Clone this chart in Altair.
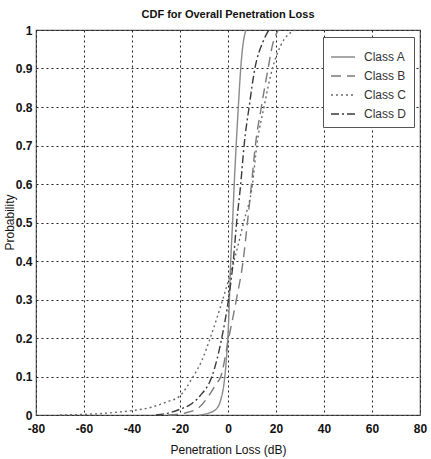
import altair as alt
import pandas as pd

# ---- data ----
classes = ["Class A", "Class B", "Class C", "Class D"]

a_x = [-12, -8, -5, -3, -1.5, -0.5, 0.3, 1.0, 1.9, 2.6, 3.4, 4.3, 5.3, 6.2, 7.5]
a_y = [0, 0.005, 0.015, 0.04, 0.09, 0.16, 0.25, 0.38, 0.5, 0.6, 0.7, 0.8, 0.9, 0.96, 1.0]

b_x = [-25, -18, -12, -8, -5, -3, 0.3, 3.5, 6.3, 8.1, 9.8, 11.4, 13.9, 16.7, 18.5, 21]
b_y = [0, 0.005, 0.02, 0.05, 0.08, 0.1, 0.2, 0.3, 0.4, 0.5, 0.6, 0.7, 0.8, 0.9, 0.96, 1.0]

c_x = [-70, -55, -45, -38, -32, -26, -20, -14.5, -11, -7.4, -2.2, 2.5, 6.5, 10.2, 12, 15, 18.5, 22, 28]
c_y = [0, 0.003, 0.008, 0.013, 0.02, 0.033, 0.05, 0.1, 0.14, 0.2, 0.3, 0.4, 0.5, 0.6, 0.7, 0.8, 0.9, 0.96, 1.0]

d_x = [-30, -25, -20, -15, -11.6, -6.7, -2.6, 0.2, 2.2, 3.6, 5.3, 6.7, 8.8, 11.2, 14.6, 17]
d_y = [0, 0.005, 0.015, 0.03, 0.05, 0.1, 0.2, 0.3, 0.4, 0.5, 0.6, 0.7, 0.8, 0.9, 0.97, 1.0]

x_ticks = [-80, -60, -40, -20, 0, 20, 40, 60, 80]
y_ticks = [0, 0.1, 0.2, 0.3, 0.4, 0.5, 0.6, 0.7, 0.8, 0.9, 1.0]

rows = []
for name, xs, ys in zip(classes, [a_x, b_x, c_x, d_x], [a_y, b_y, c_y, d_y]):
    for i, (xv, yv) in enumerate(zip(xs, ys)):
        rows.append({"Class": name, "loss": xv, "prob": yv, "order": i})
df = pd.DataFrame(rows)

FONT = "Liberation Sans, Arial, sans-serif"

chart = alt.Chart(df).mark_line(strokeWidth=1.4, interpolate="monotone").encode(
    x=alt.X("loss:Q", scale=alt.Scale(domain=[-80, 80], nice=False),
            axis=alt.Axis(values=x_ticks, title="Penetration Loss (dB)",
                          labelExpr="'' + datum.value")),
    y=alt.Y("prob:Q", scale=alt.Scale(domain=[0, 1], nice=False),
            axis=alt.Axis(values=y_ticks, title="Probability", format="~g",
                          titleX=-27, titleY=192, titleAngle=270,
                          titleAlign="center", titleBaseline="middle")),
    order="order:Q",
    color=alt.Color("Class:N", scale=alt.Scale(domain=classes,
                    range=["#8a8a8a", "#7a7a7a", "#6a6a6a", "#3a3a3a"]),
                    legend=alt.Legend(title=None)),
    strokeDash=alt.StrokeDash("Class:N", scale=alt.Scale(domain=classes,
                    range=[[1, 0], [10, 6], [2, 3], [8, 3, 2, 3]]),
                    legend=alt.Legend(title=None)),
).properties(
    width=384, height=385,
    autosize=alt.AutoSizeParams(type="none"),
    padding={"left": 36, "top": 30, "right": 11, "bottom": 44},
    title=alt.TitleParams("CDF for Overall Penetration Loss", fontSize=11,
                          fontWeight="bold", font=FONT, offset=4, color="#111"),
).configure_view(
    stroke="#555", strokeWidth=1.2
).configure_axis(
    grid=True, gridColor="#222", gridDash=[2, 3], gridWidth=1, gridOpacity=1,
    domain=False, ticks=False, labelFlush=False,
    labelFont=FONT, labelFontSize=12, labelFontWeight="bold", labelColor="#111",
    titleFont=FONT, titleFontSize=12, titleFontWeight="normal", titleColor="#111",
    labelPadding=4,
).configure_axisX(
    labelPadding=8, titlePadding=10
).configure_legend(
    orient="none", legendX=287, legendY=7,
    fillColor="white", strokeColor="#555", padding=7,
    symbolType="stroke", symbolSize=576, symbolStrokeWidth=1.5,
    labelFont=FONT, labelFontSize=12, labelColor="#333", rowPadding=-4,
    labelOffset=8,
)

chart.save("out.html", embed_options={"renderer": "svg", "actions": False})
